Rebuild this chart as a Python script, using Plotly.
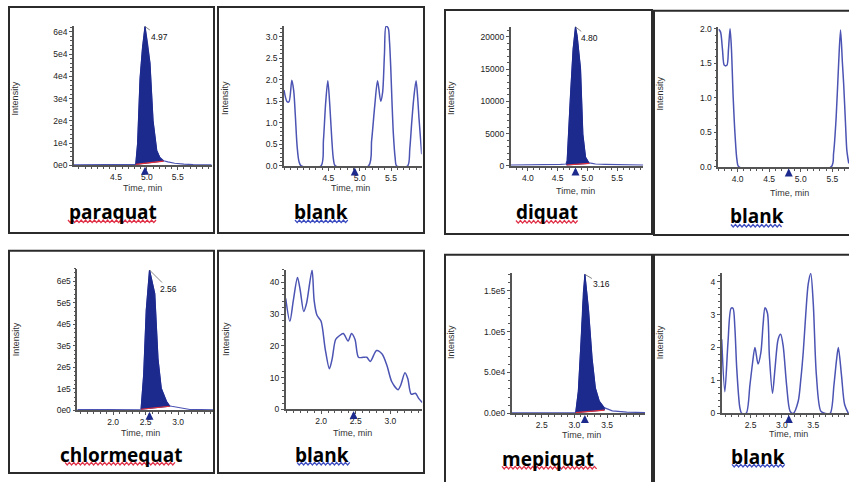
import plotly.graph_objects as go

W, H = 849, 482

# ---------------- data ----------------
paraquat_time = [3.82, 4.10, 4.40, 4.70, 4.82, 4.85, 4.89, 4.93, 4.97, 5.01, 5.05, 5.10, 5.16, 5.21, 5.27, 5.34, 5.45, 5.60, 5.75, 6.05]
paraquat_int = [150, 150, 200, 250, 400, 9700, 39000, 53000, 62400, 55000, 46000, 20000, 6600, 3500, 2000, 1500, 900, 500, 250, 150]
paraquat_base_time = [4.82, 5.27]
paraquat_base_int = [400, 1900]
paraquat_rt = 4.97

paraquat_blank_time = [3.79, 3.84, 3.87, 3.915, 3.945, 3.97, 4.0, 4.03, 4.065, 4.38, 4.42, 4.455, 4.49, 4.52, 4.555, 4.58, 4.61,
                       5.14, 5.19, 5.24, 5.285, 5.335, 5.365, 5.395, 5.42, 5.455, 5.475, 5.495, 5.515, 5.537, 5.565, 5.59,
                       5.765, 5.80, 5.83, 5.865, 5.90, 5.925, 5.947, 5.99]
paraquat_blank_int = [1.76, 1.49, 1.49, 1.99, 1.75, 1.2, 0.45, 0.1, 0, 0, 0.59, 1.45, 1.98, 1.45, 0.59, 0.15, 0,
                      0, 0.59, 1.4, 1.98, 1.5, 1.7, 2.6, 3.24, 3.2, 2.9, 2.3, 1.5, 0.75, 0.2, 0,
                      0, 0.4, 1.0, 1.6, 1.98, 1.6, 1.1, 0.27]
paraquat_blank_mark = 4.92

diquat_time = [3.71, 4.0, 4.3, 4.55, 4.64, 4.66, 4.716, 4.76, 4.80, 4.828, 4.884, 4.923, 4.968, 5.024, 5.08, 5.136, 5.3, 5.5, 5.7, 5.94]
diquat_int = [150, 150, 200, 250, 300, 860, 11000, 18100, 21550, 20100, 15060, 4920, 1370, 500, 400, 300, 250, 200, 150, 150]
diquat_base_time = [4.65, 5.03]
diquat_base_int = [150, 400]
diquat_rt = 4.80

diquat_blank_time = [3.70, 3.73, 3.76, 3.79, 3.83, 3.855, 3.88, 3.90, 3.93, 3.96, 3.99, 4.02,
                     5.48, 5.52, 5.56, 5.60, 5.63, 5.66, 5.68, 5.71, 5.73, 5.76]
diquat_blank_int = [1.99, 1.95, 1.7, 1.47, 1.47, 1.7, 2.0, 1.75, 1.0, 0.45, 0.1, 0,
                    0, 0.2, 0.71, 1.5, 1.98, 1.5, 1.19, 0.6, 0.24, 0.05]
diquat_blank_mark = 4.81

chlormequat_time = [1.45, 1.8, 2.1, 2.35, 2.43, 2.47, 2.51, 2.56, 2.64, 2.69, 2.74, 2.82, 2.87, 2.90, 3.03, 3.18, 3.35, 3.54]
chlormequat_int = [2000, 2000, 2500, 3000, 4000, 163000, 467000, 653000, 543000, 239000, 102000, 41000, 20000, 18000, 10000, 3000, 2000, 1500]
chlormequat_base_time = [2.43, 2.87]
chlormequat_base_int = [4000, 18000]
chlormequat_rt = 2.56

chlormequat_blank_time = [1.49, 1.55, 1.60, 1.66, 1.70, 1.75, 1.79, 1.87, 1.90, 1.94, 2.0, 2.06, 2.12, 2.16, 2.21, 2.26,
                          2.32, 2.39, 2.44, 2.49, 2.54, 2.61, 2.66, 2.71, 2.80, 2.88, 2.95, 3.02, 3.11, 3.15, 3.21,
                          3.25, 3.30, 3.36, 3.41, 3.46]
chlormequat_blank_int = [34.9, 27.7, 34.3, 41.5, 37.4, 30.8, 33.3, 43.8, 34.3, 29.7, 27.7, 19.0, 12.8, 15.9, 22.0, 23.1,
                         23.9, 21.5, 23.9, 22.0, 16.4, 16.4, 16.4, 15.1, 18.5, 17.4, 13.8, 8.7, 6.2, 7.7, 11.5,
                         9.7, 4.8, 5.1, 3.4, 2.2]
chlormequat_blank_mark = 2.47

mepiquat_time = [2.04, 2.5, 2.9, 3.0, 3.02, 3.06, 3.10, 3.135, 3.16, 3.215, 3.27, 3.32, 3.38, 3.455, 3.58, 3.8, 4.08]
mepiquat_int = [500, 500, 600, 700, 1000, 27000, 87000, 147000, 170000, 127000, 67000, 31000, 15000, 7000, 3000, 1500, 1000]
mepiquat_base_time = [3.02, 3.46]
mepiquat_base_int = [1000, 4000]
mepiquat_rt = 3.16

mepiquat_blank_time = [2.04, 2.09, 2.14, 2.19, 2.22, 2.25, 2.28, 2.33, 2.36, 2.43, 2.49, 2.53, 2.57, 2.62, 2.665, 2.70,
                       2.73, 2.77, 2.80, 2.85, 2.89, 2.94, 2.98, 3.02, 3.075, 3.13, 3.18, 3.26, 3.30, 3.34, 3.38,
                       3.42, 3.46, 3.50, 3.55, 3.62, 3.69, 3.77, 3.83, 3.87, 3.90, 3.95, 4.00, 4.06]
mepiquat_blank_int = [2.25, 0.66, 2.15, 3.19, 3.19, 2.6, 1.36, 0.17, 0, 0, 0.86, 1.5, 2.0, 1.5, 1.85, 2.7,
                      3.21, 3.04, 1.75, 0.61, 1.36, 2.25, 2.40, 2.05, 0.86, 0.07, 0, 0.37, 1.0, 1.85, 3.0,
                      3.93, 4.25, 3.34, 1.16, 0.07, 0, 0, 0.86, 1.6, 2.0, 1.16, 0.27, 0]
mepiquat_blank_mark = 3.11

# tick values / labels
e4_ticks = [0, 10000, 20000, 30000, 40000, 50000, 60000]
e4_text = ["0e0", "1e4", "2e4", "3e4", "4e4", "5e4", "6e4"]
half_ticks_3 = [0, 0.5, 1.0, 1.5, 2.0, 2.5, 3.0]
half_text_3 = ["0.0", "0.5", "1.0", "1.5", "2.0", "2.5", "3.0"]
diquat_yticks = [0, 5000, 10000, 15000, 20000]
diquat_ytext = ["0", "5000", "10000", "15000", "20000"]
half_ticks_2 = [0, 0.5, 1.0, 1.5, 2.0]
half_text_2 = ["0.0", "0.5", "1.0", "1.5", "2.0"]
e5_ticks = [0, 100000, 200000, 300000, 400000, 500000, 600000]
e5_text = ["0e0", "1e5", "2e5", "3e5", "4e5", "5e5", "6e5"]
ten_ticks = [0, 10, 20, 30, 40]
ten_text = ["0", "10", "20", "30", "40"]
mep_yticks = [0, 50000, 100000, 150000]
mep_ytext = ["0.0e0", "5.0e4", "1.0e5", "1.5e5"]
one_ticks = [0, 1, 2, 3, 4]
one_text = ["0", "1", "2", "3", "4"]
x_ticks_top = [4.5, 5.0, 5.5]
x_ticks_top2 = [4.0, 4.5, 5.0, 5.5]
x_ticks_chl = [2.0, 2.5, 3.0]
x_ticks_mep = [2.5, 3.0, 3.5]

names = ["paraquat", "blank", "diquat", "blank", "chlormequat", "blank", "mepiquat", "blank"]

# ---------------- layout geometry (pixels) ----------------
panels = [
    dict(kind="peak", t=paraquat_time, v=paraquat_int, bt=paraquat_base_time, bv=paraquat_base_int, rt=paraquat_rt,
         box=(9, 4, 214, 234), plot=(74, 23.3, 211.7, 165), xr=[3.82, 6.05], yr=[0, 62700],
         yt=e4_ticks, ytt=e4_text, ymin=2000, xt=x_ticks_top, lab=(14, 10),
         ytitle=(15, 97), xtitle=(142, 188), name=(112.7, 213), wave=(68, 157, 222)),
    dict(kind="blank", t=paraquat_blank_time, v=paraquat_blank_int, rt=paraquat_blank_mark,
         box=(218, 4, 424, 234), plot=(284, 23.3, 421.7, 165.7), xr=[3.79, 5.99], yr=[0, 3.25],
         yt=half_ticks_3, ytt=half_text_3, ymin=0.1, xt=x_ticks_top,
         ytitle=(225.7, 97), xtitle=(350, 188), name=(321, 212.5), wave=(295, 348, 222)),
    dict(kind="peak", t=diquat_time, v=diquat_int, bt=diquat_base_time, bv=diquat_base_int, rt=diquat_rt,
         box=(445, 7, 652, 235), plot=(510.7, 24, 643.3, 165.7), xr=[3.71, 5.94], yr=[0, 21600],
         yt=diquat_yticks, ytt=diquat_ytext, ymin=1000, xt=x_ticks_top2, lab=(14, 11),
         ytitle=(451.7, 97), xtitle=(575.7, 190.7), name=(546.7, 212.5), wave=(516, 578, 222.5)),
    dict(kind="blank", t=diquat_blank_time, v=diquat_blank_int, rt=diquat_blank_mark,
         box=(654, 8, 870, 236), plot=(718.3, 24, 849, 166.7), xr=[3.694, 5.764], yr=[0, 2.03],
         yt=half_ticks_2, ytt=half_text_2, ymin=0.1, xt=x_ticks_top2,
         ytitle=(660, 92), xtitle=(789, 193), name=(756.7, 217), wave=(731, 782, 226.5)),
    dict(kind="peak", t=chlormequat_time, v=chlormequat_int, bt=chlormequat_base_time, bv=chlormequat_base_int, rt=chlormequat_rt,
         box=(9, 252, 214, 478), plot=(77.3, 270, 213.3, 414), xr=[1.45, 3.54], yr=[0, 660000],
         yt=e5_ticks, ytt=e5_text, ymin=20000, xt=x_ticks_chl, lab=(19, 19),
         ytitle=(16, 342), xtitle=(140, 437.7), name=(121, 460), wave=(65, 177, 468.5)),
    dict(kind="blank", t=chlormequat_blank_time, v=chlormequat_blank_int, rt=chlormequat_blank_mark,
         box=(218, 252, 424, 478), plot=(285.7, 271, 422.3, 413.3), xr=[1.49, 3.46], yr=[0, 44],
         yt=ten_ticks, ytt=ten_text, ymin=2, xt=x_ticks_chl,
         ytitle=(226.7, 342), xtitle=(352.3, 437.3), name=(321.7, 460), wave=(297, 350, 468.5)),
    dict(kind="peak", t=mepiquat_time, v=mepiquat_int, bt=mepiquat_base_time, bv=mepiquat_base_int, rt=mepiquat_rt,
         box=(445, 256, 652, 500), plot=(511.7, 274.3, 645, 417.3), xr=[2.04, 4.08], yr=[0, 172000],
         yt=mep_yticks, ytt=mep_ytext, ymin=10000, xt=x_ticks_mep, lab=(17, 10),
         ytitle=(451.7, 345), xtitle=(581.7, 439), name=(548.3, 463.3), wave=(502, 597, 472.5)),
    dict(kind="blank", t=mepiquat_blank_time, v=mepiquat_blank_int, rt=mepiquat_blank_mark,
         box=(654, 256, 870, 500), plot=(721.7, 274.3, 849, 417.3), xr=[2.04, 4.07], yr=[0, 4.27],
         yt=one_ticks, ytt=one_text, ymin=0.2, xt=x_ticks_mep,
         ytitle=(660, 345), xtitle=(788.3, 438.3), name=(758.3, 461.7), wave=(732, 785, 470.5)),
]

LINE = "#4b53b3"
NAVY = "#1d2a8d"
RED = "#e0303a"
AXIS = "#555555"
SANS = "Liberation Sans, Arial, sans-serif"
TICKFONT = dict(family=SANS, size=8.5, color="#222222")


def px(x):
    return x / W


def py(y):
    return 1 - y / H


fig = go.Figure()
shapes = []
annotations = []

for k, p in enumerate(panels, start=1):
    xa = "x" if k == 1 else f"x{k}"
    ya = "y" if k == 1 else f"y{k}"
    x0, y0, x1, y1 = p["plot"]
    fig.layout[f"xaxis{'' if k == 1 else k}"] = dict(
        domain=[px(x0), min(px(x1), 1.0)], anchor=ya, range=p["xr"],
        showline=True, linecolor=AXIS, linewidth=1.5, showgrid=False, zeroline=False,
        ticks="outside", ticklen=3, tickwidth=1, tickcolor=AXIS,
        tickmode="array", tickvals=p["xt"], ticktext=[f"{v:.1f}" for v in p["xt"]],
        tickfont=TICKFONT, fixedrange=True,
        minor=dict(tickmode="linear", tick0=0, dtick=0.1, ticks="outside", ticklen=2, tickcolor=AXIS),
    )
    fig.layout[f"yaxis{'' if k == 1 else k}"] = dict(
        domain=[py(y1), py(y0)], anchor=xa, range=p["yr"],
        showline=True, linecolor=AXIS, linewidth=1.5, showgrid=False, zeroline=False,
        ticks="outside", ticklen=3, tickwidth=1, tickcolor=AXIS,
        tickmode="array", tickvals=p["yt"], ticktext=p["ytt"],
        tickfont=TICKFONT, fixedrange=True,
        minor=dict(tickmode="linear", tick0=0, dtick=p["ymin"], ticks="outside", ticklen=2, tickcolor=AXIS),
    )

    if p["kind"] == "peak":
        fig.add_trace(go.Scatter(x=p["t"], y=p["v"], mode="lines", xaxis=xa, yaxis=ya,
                                 line=dict(color=LINE, width=1.2), hoverinfo="skip"))
        bt0, bt1 = p["bt"]
        sel = [(t, v) for t, v in zip(p["t"], p["v"]) if bt0 < t < bt1]
        fx = [bt0] + [s[0] for s in sel] + [bt1, bt0]
        fy = [p["bv"][0]] + [s[1] for s in sel] + [p["bv"][1], p["bv"][0]]
        fig.add_trace(go.Scatter(x=fx, y=fy, mode="lines", fill="toself", fillcolor=NAVY, xaxis=xa, yaxis=ya,
                                 line=dict(color=NAVY, width=1), hoverinfo="skip"))
        fig.add_trace(go.Scatter(x=p["bt"], y=p["bv"], mode="lines", xaxis=xa, yaxis=ya,
                                 line=dict(color=RED, width=1.2), hoverinfo="skip"))
        apex_i = max(p["v"])
        apex_t = p["t"][p["v"].index(apex_i)]
        annotations.append(dict(x=apex_t, y=apex_i, xref=xa, yref=ya, text=f"{p['rt']:.2f}",
                                showarrow=True, arrowhead=0, arrowwidth=0.8, arrowcolor="#666666",
                                ax=p["lab"][0], ay=p["lab"][1],
                                font=dict(family=SANS, size=8.5, color="#111111")))
    else:
        fig.add_trace(go.Scatter(x=p["t"], y=p["v"], mode="lines", xaxis=xa, yaxis=ya,
                                 line=dict(color=LINE, width=1.5, shape="spline", smoothing=0.8), hoverinfo="skip"))

    # retention-time marker below the axis
    annotations.append(dict(x=p["rt"], y=0, xref=xa, yref=ya, text="", showarrow=True,
                            arrowhead=2, arrowsize=0.8, arrowwidth=2, arrowcolor=NAVY,
                            ax=0, ay=8, standoff=1.5))

    bx0, by0, bx1, by1 = p["box"]
    shapes.append(dict(type="rect", xref="paper", yref="paper", x0=px(bx0), x1=px(bx1), y0=py(by1), y1=py(by0),
                       line=dict(color="#2b2b2b", width=2), layer="above"))

    annotations.append(dict(x=px(p["ytitle"][0]), y=py(p["ytitle"][1]), xref="paper", yref="paper",
                            text="Intensity", textangle=-90, showarrow=False, xanchor="center", yanchor="middle",
                            font=dict(family=SANS, size=9, color="#333333")))
    annotations.append(dict(x=px(p["xtitle"][0]), y=py(p["xtitle"][1]), xref="paper", yref="paper",
                            text="Time, min", showarrow=False, xanchor="center", yanchor="middle",
                            font=dict(family=SANS, size=9, color="#333333")))
    nm = names[k - 1]
    annotations.append(dict(x=px(p["name"][0]), y=py(p["name"][1]), xref="paper", yref="paper",
                            text=f"<b>{nm}</b>", showarrow=False, xanchor="center", yanchor="middle",
                            font=dict(family="Open Sans, Noto Sans, sans-serif", size=19, color="#000000")))
    wx0, wx1, wy = p["wave"]
    pts = []
    xx, i = wx0, 0
    while xx <= wx1:
        pts.append((xx, wy + (1.3 if i % 2 else -1.3)))
        xx += 2.2
        i += 1
    path = "M " + " L ".join(f"{px(a):.5f},{py(b):.5f}" for a, b in pts)
    shapes.append(dict(type="path", xref="paper", yref="paper", path=path,
                       line=dict(color="#3c4cc0" if nm == "blank" else "#e03048", width=1.3)))

fig.update_layout(
    width=W, height=H, margin=dict(l=0, r=0, t=0, b=0),
    paper_bgcolor="white", plot_bgcolor="white",
    showlegend=False, hovermode=False,
    shapes=shapes, annotations=annotations,
)

fig.write_html("out.html", config={"displayModeBar": False},
               post_script="document.body.style.margin='0px';document.body.style.overflow='hidden';")
